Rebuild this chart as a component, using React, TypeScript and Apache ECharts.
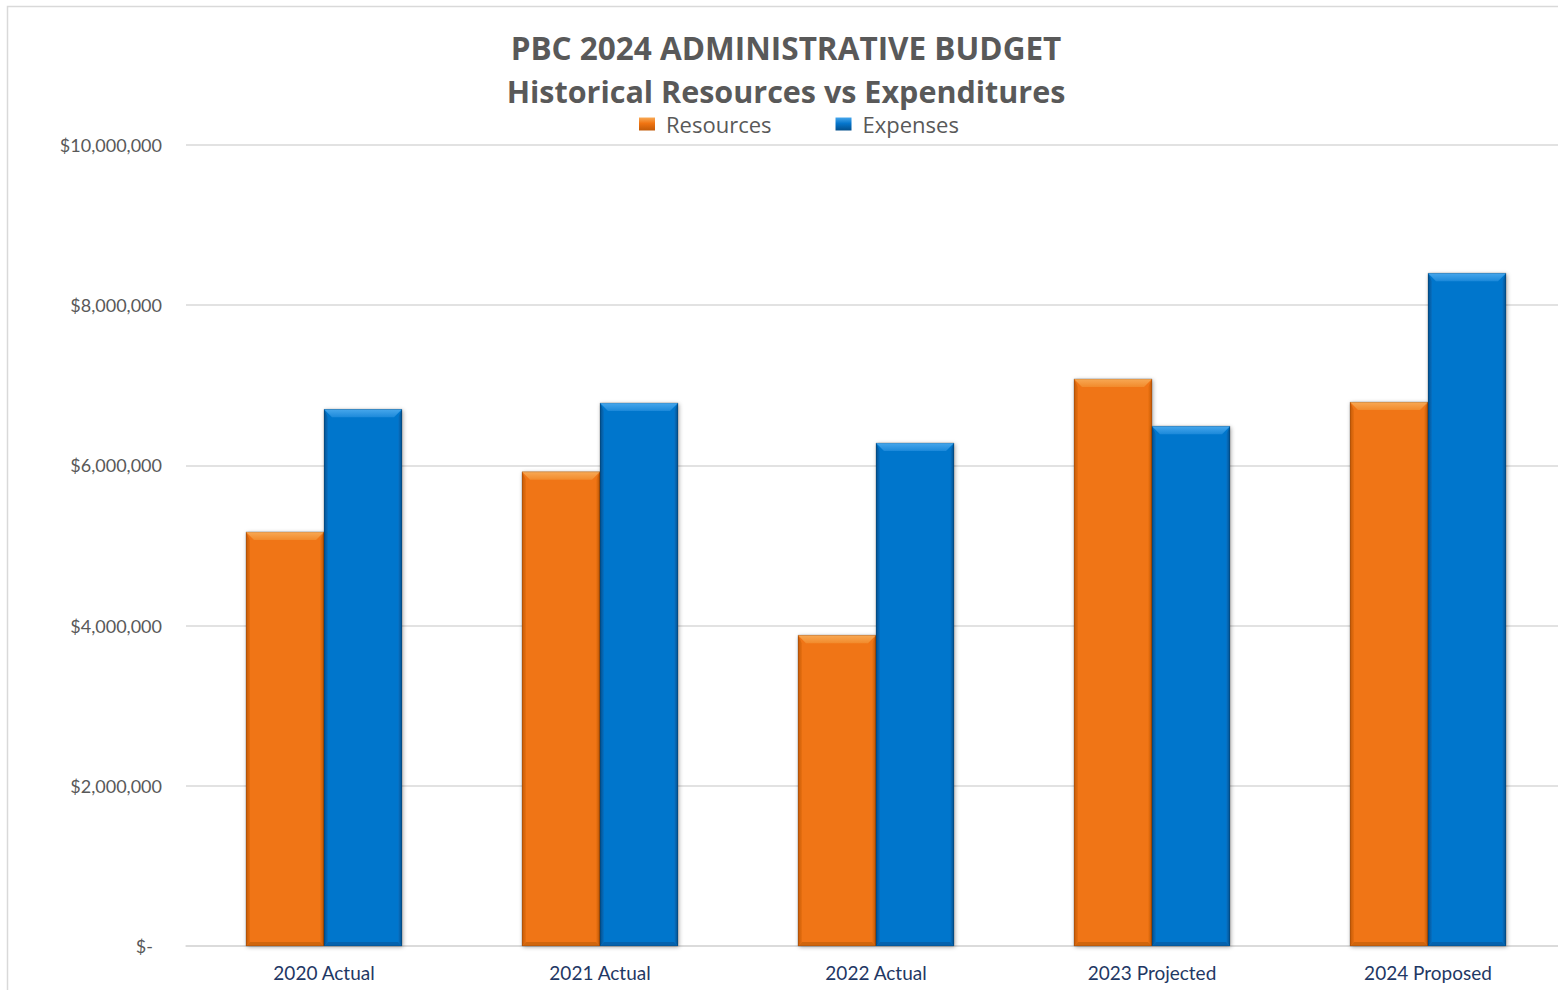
import React, { useEffect, useRef } from "react";
import * as echarts from "echarts";

const categories = ["2020 Actual", "2021 Actual", "2022 Actual", "2023 Projected", "2024 Proposed"];
const resources = [5170000, 5920000, 3880000, 7080000, 6790000];
const expenses = [6700000, 6780000, 6280000, 6490000, 8400000];
const seriesNames = ["Resources", "Expenses"];
const titleLines = ["PBC 2024 ADMINISTRATIVE BUDGET", "Historical Resources vs Expenditures"];

const FONT = "Lato, 'Open Sans', sans-serif";
const TITLE_FONT = "'Open Sans', Lato, sans-serif";

const palettes = [
  { main: "#F07412", light1: "#F8A955", light2: "#F28B2C", left: "#E86F10", right: "#C25A08", bottom: "#D0650C" },
  { main: "#0676CC", light1: "#47A7EC", light2: "#1C89DA", left: "#0670C3", right: "#034F8C", bottom: "#0462AE" },
];

function makeRender(seriesIndex: number) {
  const p = palettes[seriesIndex];
  return (params: any, api: any) => {
    const idx = api.value(0);
    const val = api.value(1);
    const topPt = api.coord([idx, val]);
    const basePt = api.coord([idx, 0]);
    const band = api.size([1, 0])[0];
    const w = (band * 78) / 276;
    const x0 = seriesIndex === 0 ? topPt[0] - w : topPt[0];
    const x1 = x0 + w;
    const y0 = topPt[1];
    const y1 = basePt[1];
    const b = 8;
    const s = 4;
    return {
      type: "group",
      children: [
        {
          type: "rect",
          shape: { x: x0, y: y0, width: w, height: y1 - y0 },
          style: { fill: p.main, shadowBlur: 4, shadowColor: "rgba(0,0,0,0.35)", shadowOffsetX: 1, shadowOffsetY: 1 },
        },
        {
          type: "polygon",
          shape: { points: [[x0, y0], [x0 + s, y0 + b], [x0 + s, y1 - s], [x0, y1]] },
          style: {
            fill: new echarts.graphic.LinearGradient(0, 0, 1, 0, [
              { offset: 0, color: p.right },
              { offset: 1, color: p.left },
            ]),
          },
        },
        {
          type: "polygon",
          shape: { points: [[x1, y0], [x1 - s, y0 + b], [x1 - s, y1 - s], [x1, y1]] },
          style: {
            fill: new echarts.graphic.LinearGradient(1, 0, 0, 0, [
              { offset: 0, color: p.right },
              { offset: 1, color: p.main },
            ]),
          },
        },
        {
          type: "polygon",
          shape: { points: [[x0, y1], [x0 + s, y1 - s], [x1 - s, y1 - s], [x1, y1]] },
          style: { fill: p.bottom },
        },
        {
          type: "polygon",
          shape: { points: [[x0, y0], [x1, y0], [x1 - b, y0 + b], [x0 + b, y0 + b]] },
          style: {
            fill: new echarts.graphic.LinearGradient(0, 0, 0, 1, [
              { offset: 0, color: p.light1 },
              { offset: 1, color: p.light2 },
            ]),
          },
        },
        {
          type: "rect",
          shape: { x: x0, y: y0, width: w, height: y1 - y0 },
          style: { fill: "none", stroke: "rgba(0,0,0,0.18)", lineWidth: 1 },
        },
      ],
    };
  };
}

export default function App() {
  const ref = useRef<HTMLDivElement>(null);
  useEffect(() => {
    if (!ref.current) return;
    const chart = echarts.init(ref.current, undefined, { renderer: "svg" });
    const series = [resources, expenses].map((vals, si) => ({
      type: "custom",
      name: seriesNames[si],
      renderItem: makeRender(si),
      encode: { x: 0, y: 1 },
      itemStyle: { color: palettes[si].main },
      data: vals.map((v, i) => [i, v]),
    }));
    const titleSizes = [31.5, 30.5];
    const titleCenters = [47, 91];
    chart.setOption({
      animation: false,
      backgroundColor: "#ffffff",
      graphic: [
        {
          type: "rect",
          shape: { x: 7.5, y: 6.5, width: 1700, height: 1000 },
          style: { fill: "none", stroke: "#D9D9D9", lineWidth: 1.5 },
          silent: true,
        },
      ],
      title: titleLines.map((t, i) => ({
        text: t,
        left: 786,
        textAlign: "center",
        top: titleCenters[i] - 15,
        padding: 0,
        textStyle: {
          fontFamily: TITLE_FONT,
          fontSize: titleSizes[i],
          fontWeight: "bold",
          color: "#595959",
          lineHeight: 30,
        },
      })),
      legend: {
        data: seriesNames.map((n, i) => ({
          name: n,
          itemStyle: {
            color: new echarts.graphic.LinearGradient(0, 0, 0, 1, [
              { offset: 0, color: palettes[i].light1 },
              { offset: 0.45, color: palettes[i].main },
              { offset: 1, color: palettes[i].right },
            ]),
          },
        })),
        left: 639,
        top: 113,
        padding: 0,
        icon: "rect",
        itemWidth: 16,
        itemHeight: 13,
        itemGap: 64,
        textStyle: {
          fontFamily: TITLE_FONT,
          fontSize: 22,
          color: "#595959",
          lineHeight: 20,
          padding: [0, 0, 0, 6],
        },
      },
      grid: { left: 186, top: 145, width: 1380, height: 801, containLabel: false },
      xAxis: {
        type: "category",
        data: categories,
        axisLine: { lineStyle: { color: "#D9D9D9", width: 1.5 } },
        axisTick: { show: false },
        axisLabel: { fontFamily: FONT, fontSize: 19, color: "#1F3864", margin: 17 },
      },
      yAxis: {
        type: "value",
        min: 0,
        max: 10000000,
        interval: 2000000,
        axisLine: { show: false },
        axisTick: { show: false },
        splitLine: { lineStyle: { color: "#D9D9D9", width: 1.5 } },
        axisLabel: {
          fontFamily: FONT,
          fontSize: 18,
          color: "#595959",
          margin: 24,
          formatter: (v: number) => (v === 0 ? "{z|$-}" : "$" + v.toLocaleString("en-US")),
          rich: { z: { fontFamily: FONT, fontSize: 18, color: "#595959", padding: [0, 9, 0, 0] } },
        },
      },
      series,
    });
    return () => chart.dispose();
  }, []);
  return (
    <div style={{ position: "absolute", left: 0, top: 0, width: 1558, height: 990, overflow: "hidden" }}>
      <div ref={ref} style={{ width: 1620, height: 990 }} />
    </div>
  );
}
